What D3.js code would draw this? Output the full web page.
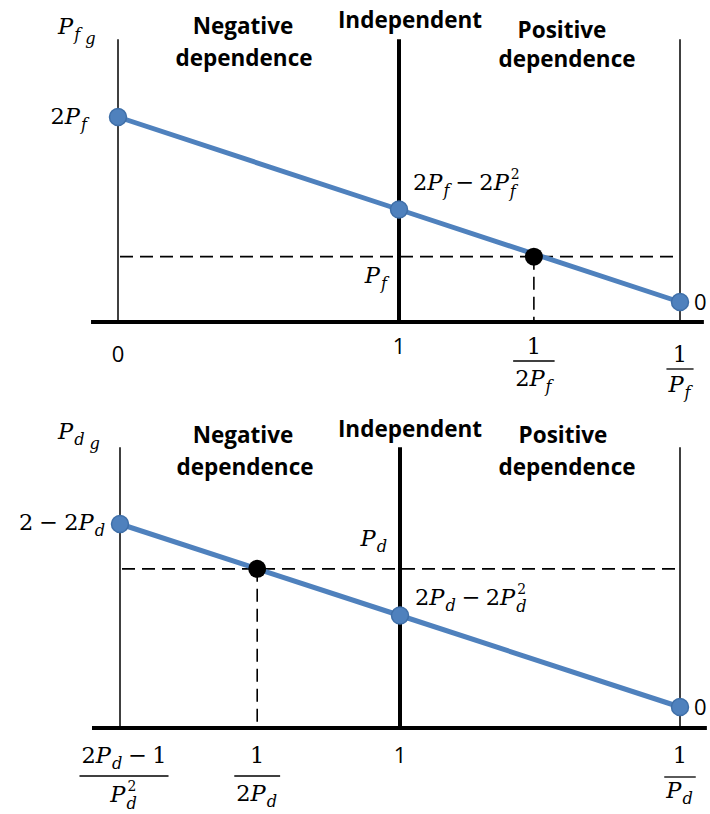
<!DOCTYPE html>
<html>
<head>
<meta charset="utf-8">
<script src="https://cdn.jsdelivr.net/npm/d3@7"></script>
<style>
  html, body { margin: 0; padding: 0; background: #fff; }
  svg { display: block; }
</style>
</head>
<body>
<svg id="chart" width="710" height="814"></svg>
<script>
// ---------------- data ----------------
const regionNames = [["Negative", "dependence"], ["Independent"], ["Positive", "dependence"]];

// upper panel (P_f): three marked values on the line and the highlighted point
const fLineX = [0, 1, 2];
const fLineY = [2, 1, 0];
const fMarkX = 1.48;
const fMarkY = 0.49;

// lower panel (P_d)
const dLineX = [0, 1, 2];
const dLineY = [2, 1, 0];
const dMarkX = 0.49;
const dMarkY = 1.51;

// math token helpers: n = upright, v = italic variable, sub / sub2 / subsup = scripts, gap = spacing
const n = t => ({ k: "n", t });
const v = t => ({ k: "v", t });
const sub = t => ({ k: "sub", t });
const sub2 = t => ({ k: "sub2", t });
const subsup = (a, b) => ({ k: "subsup", a, b });
const gap = w => ({ k: "gap", w });
const minus = [gap(5), n("\u2212"), gap(5)];

// axis and point labels
const fYLabel = [v("P"), sub("f"), sub2("g")];
const fPointLabels = [
  [n("2"), v("P"), sub("f")],
  [n("2"), v("P"), sub("f"), ...minus, n("2"), v("P"), subsup("f", "2")],
  [v("P"), sub("f")]
];
const fTicks = [
  { x: 0, text: "0" },
  { x: 1, text: "1" },
  { x: fMarkX, num: [n("1")], den: [n("2"), v("P"), sub("f")] },
  { x: 2, num: [n("1")], den: [v("P"), sub("f")] }
];

const dYLabel = [v("P"), sub("d"), sub2("g")];
const dPointLabels = [
  [n("2"), gap(6), n("\u2212"), gap(6), n("2"), v("P"), sub("d")],
  [n("2"), v("P"), sub("d"), ...minus, n("2"), v("P"), subsup("d", "2")],
  [v("P"), sub("d")]
];
const dTicks = [
  { x: 0, num: [n("2"), v("P"), sub("d"), ...minus, n("1")], den: [v("P"), subsup("d", "2")] },
  { x: dMarkX, num: [n("1")], den: [n("2"), v("P"), sub("d")] },
  { x: 1, text: "1" },
  { x: 2, num: [n("1")], den: [v("P"), sub("d")] }
];

// ---------------- styles ----------------
const MATH = "'DejaVu Serif', serif";
const SANS = "'Open Sans', 'Noto Sans', sans-serif";
const MS = 22.5;         // math font size
const BLUE = "#4f81bd";
const BLUE_EDGE = "#3f6fa8";

const svg = d3.select("#chart");

// lays out a row of math tokens, returns group and width
function mathText(parent, tokens, size) {
  const g = parent.append("g");
  let cx = 0;
  const piece = (txt, x, dy, fs, italic) => {
    const t = g.append("text")
      .attr("x", x).attr("y", dy)
      .attr("font-family", MATH)
      .attr("font-size", fs)
      .attr("font-style", italic ? "italic" : "normal")
      .attr("fill", "#000")
      .text(txt);
    return t.node().getComputedTextLength();
  };
  tokens.forEach(tok => {
    if (tok.k === "gap") cx += tok.w;
    else if (tok.k === "n") cx += piece(tok.t, cx, 0, size, false);
    else if (tok.k === "v") cx += piece(tok.t, cx, 0, size, true) + 1;
    else if (tok.k === "sub") cx += piece(tok.t, cx, size * 0.28, size * 0.72, true) + 1;
    else if (tok.k === "sub2") cx += piece(tok.t, cx + 4, size * 0.46, size * 0.72, true) + 4;
    else if (tok.k === "subsup") {
      const a = piece(tok.a, cx, size * 0.32, size * 0.72, true);
      const b = piece(tok.b, cx + 1, -size * 0.48, size * 0.62, false);
      cx += Math.max(a, b) + 1;
    }
  });
  return { g, width: cx };
}

function placeMath(parent, tokens, x, y, anchor, size) {
  const m = mathText(parent, tokens, size || MS);
  const dx = anchor === "middle" ? -m.width / 2 : anchor === "end" ? -m.width : 0;
  m.g.attr("transform", `translate(${x + dx},${y})`);
  return m;
}

function fraction(parent, num, den, cx, numY, barY, denY) {
  const a = placeMath(parent, num, cx, numY, "middle");
  const b = placeMath(parent, den, cx, denY, "middle");
  const w = Math.max(a.width, b.width) + 4;
  parent.append("line")
    .attr("x1", cx - w / 2).attr("x2", cx + w / 2)
    .attr("y1", barY).attr("y2", barY)
    .attr("stroke", "#000").attr("stroke-width", 1.3);
}

function drawPanel(cfg) {
  const g = svg.append("g");
  const x = d3.scaleLinear().domain([0, 1]).range(cfg.xRange);
  const y = d3.scaleLinear().domain([0, 2]).range(cfg.yRange);
  const base = y(cfg.baseVal);
  const top = y(cfg.topVal);

  // vertical region boundaries
  g.append("line").attr("x1", x(cfg.lineX[0])).attr("x2", x(cfg.lineX[0]))
    .attr("y1", top).attr("y2", base).attr("stroke", "#000").attr("stroke-width", 1.5);
  g.append("line").attr("x1", x(cfg.lineX[2])).attr("x2", x(cfg.lineX[2]))
    .attr("y1", top).attr("y2", base).attr("stroke", "#000").attr("stroke-width", 1.5);
  g.append("line").attr("x1", x(cfg.lineX[1])).attr("x2", x(cfg.lineX[1]))
    .attr("y1", top).attr("y2", base).attr("stroke", "#000").attr("stroke-width", 4);

  // horizontal axis
  g.append("line").attr("x1", x(cfg.axisFrom)).attr("x2", x(cfg.axisTo))
    .attr("y1", base).attr("y2", base).attr("stroke", "#000").attr("stroke-width", 4);

  // dashed guides through the highlighted point
  const dash = "13,7";
  g.append("line").attr("x1", x(cfg.lineX[0]) + 2).attr("x2", x(cfg.lineX[2]))
    .attr("y1", y(cfg.markY)).attr("y2", y(cfg.markY))
    .attr("stroke", "#000").attr("stroke-width", 1.6).attr("stroke-dasharray", dash);
  g.append("line").attr("x1", x(cfg.markX)).attr("x2", x(cfg.markX))
    .attr("y1", y(cfg.markY)).attr("y2", base)
    .attr("stroke", "#000").attr("stroke-width", 1.6).attr("stroke-dasharray", dash);

  // the line and its points
  const pts = cfg.lineX.map((d, i) => [d, cfg.lineY[i]]);
  g.append("path").datum(pts)
    .attr("d", d3.line().x(d => x(d[0])).y(d => y(d[1])))
    .attr("fill", "none").attr("stroke", BLUE).attr("stroke-width", 5);
  g.selectAll("circle.pt").data(pts).join("circle").attr("class", "pt")
    .attr("cx", d => x(d[0])).attr("cy", d => y(d[1])).attr("r", 8.5)
    .attr("fill", BLUE).attr("stroke", BLUE_EDGE).attr("stroke-width", 1.5);
  g.append("circle").attr("cx", x(cfg.markX)).attr("cy", y(cfg.markY)).attr("r", 9)
    .attr("fill", "#000");

  // region names
  cfg.regions.forEach((r, i) => {
    const t = g.append("text").attr("font-family", SANS).attr("font-weight", 700)
      .attr("font-size", 22.5).attr("text-anchor", "middle").attr("fill", "#000");
    regionNames[i].forEach((line, j) => {
      t.append("tspan").attr("x", r.x[j]).attr("y", r.y[j]).text(line);
    });
  });

  // math labels
  placeMath(g, cfg.yLabel, cfg.yLabelPos[0], cfg.yLabelPos[1], "start");
  placeMath(g, cfg.pointLabels[0], cfg.pl0[0], cfg.pl0[1], "end");
  placeMath(g, cfg.pointLabels[1], cfg.pl1[0], cfg.pl1[1], "start");
  placeMath(g, cfg.pointLabels[2], cfg.pl2[0], cfg.pl2[1], "end");
  g.append("text").attr("x", x(cfg.lineX[2]) + 14).attr("y", y(cfg.lineY[2]) + 8)
    .attr("font-family", SANS).attr("font-size", 22).attr("fill", "#000").text("0");

  // x tick labels
  cfg.ticks.forEach((tk, i) => {
    const cx = x(tk.x) + (cfg.tickShift[i] || 0);
    const ly = cfg.tickY[i];
    if (tk.text !== undefined) {
      g.append("text").attr("x", cx).attr("y", ly[0])
        .attr("font-family", SANS).attr("font-size", 22).attr("text-anchor", "middle")
        .attr("fill", "#000").text(tk.text);
    } else {
      fraction(g, tk.num, tk.den, cx, ly[0], ly[1], ly[2]);
    }
  });
}

// upper panel
drawPanel({
  xRange: [118, 399], yRange: [302, 117],
  baseVal: -0.216, topVal: 2.84, axisFrom: -0.096, axisTo: 2.085,
  lineX: fLineX, lineY: fLineY, markX: fMarkX, markY: fMarkY,
  regions: [
    { x: [243, 244], y: [34, 66] },
    { x: [410], y: [28] },
    { x: [562, 567], y: [38, 67] }
  ],
  yLabel: fYLabel, yLabelPos: [58, 34],
  pointLabels: fPointLabels,
  pl0: [88, 124], pl1: [413, 190], pl2: [388, 283],
  ticks: fTicks, tickShift: [0, 0, 0, 0],
  tickY: [[362], [354], [354, 361, 386], [362, 369, 392]]
});

// lower panel
drawPanel({
  xRange: [120, 400], yRange: [707, 524],
  baseVal: -0.23, topVal: 2.84, axisFrom: -0.1, axisTo: 2.096,
  lineX: dLineX, lineY: dLineY, markX: dMarkX, markY: dMarkY,
  regions: [
    { x: [243, 245], y: [443, 475] },
    { x: [410], y: [437] },
    { x: [563, 567], y: [443, 475] }
  ],
  yLabel: dYLabel, yLabelPos: [58, 439],
  pointLabels: dPointLabels,
  pl0: [106, 530], pl1: [415, 605], pl2: [388, 546],
  ticks: dTicks, tickShift: [4, 0, 0, 0],
  tickY: [[763, 776, 802], [763, 776, 801], [763], [763, 777, 798]]
});
</script>
</body>
</html>
